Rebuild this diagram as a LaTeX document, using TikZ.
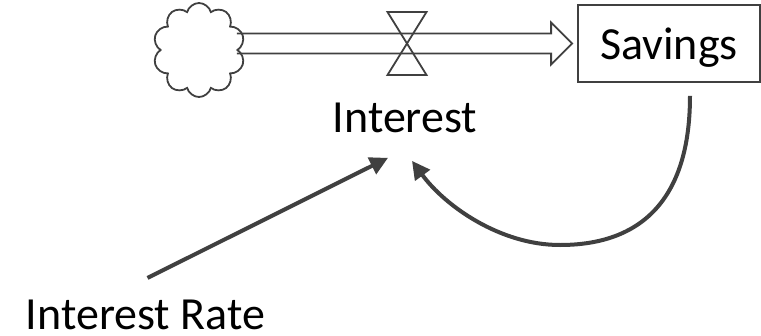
\documentclass[tikz,border=0pt]{standalone}
\usepackage{fontspec}
\setmainfont{Carlito}
\usetikzlibrary{arrows.meta}
\usetikzlibrary{calc}
\usetikzlibrary{shapes.symbols}
\usetikzlibrary{positioning}

\definecolor{linegray}{HTML}{404040}

\begin{document}
\begin{tikzpicture}[x=1pt,y=-1pt,
  every node/.style={font=\fontsize{46}{55}\selectfont},
  pipe/.style={draw=linegray,line width=1.8pt,line join=miter},
  link/.style={draw=linegray,line width=4pt,-{Triangle[length=18pt,width=18pt]}}]

  \useasboundingbox (0,0) rectangle (761,335);

  \node [cloud,cloud puffs=10,draw=linegray,line width=1.8pt,minimum width=92pt,minimum height=94pt,inner sep=0pt] (cloud) at (199,50) {};
  \node [draw=linegray,line width=1.8pt,minimum width=182pt,minimum height=77pt,inner sep=0pt,text depth=0pt] (sav) at (669,43.5) {Savings};

  \node [anchor=base] (int) at (405,132) {Interest};
  \node [anchor=base] (rate) at (145.5,329) {Interest Rate};

  \coordinate (valve) at (407,43.5);
  \coordinate (pipestart) at ([xshift=-2pt]cloud.east |- sav.west);
  \coordinate (pipeend) at ([xshift=-5pt]sav.west);

  \draw [pipe] ([yshift=10pt]pipestart) -- ([xshift=-21pt,yshift=10pt]pipeend)
    -- ([xshift=-21pt,yshift=21pt]pipeend) -- (pipeend)
    -- ([xshift=-21pt,yshift=-21pt]pipeend) -- ([xshift=-21pt,yshift=-10pt]pipeend)
    -- ([yshift=-10pt]pipestart);

  \draw [pipe] ([shift={(-19.5pt,31.5pt)}]valve) -- ([shift={(19.5pt,31.5pt)}]valve)
    -- ([shift={(-19.5pt,-31.5pt)}]valve) -- ([shift={(19.5pt,-31.5pt)}]valve) -- cycle;

  \draw [link] ([xshift=2pt,yshift=18pt]rate.north) -- ([xshift=-17pt,yshift=-22pt]int.south);

  \coordinate (loopbot) at (560,245);
  \draw [link] ([xshift=21pt,yshift=-13pt]sav.south) .. controls +(0,105) and +(80,0) .. (loopbot)
    .. controls +(-60,0) and +(33,45) .. ([xshift=7pt,yshift=-25pt]int.south);

\end{tikzpicture}
\end{document}
